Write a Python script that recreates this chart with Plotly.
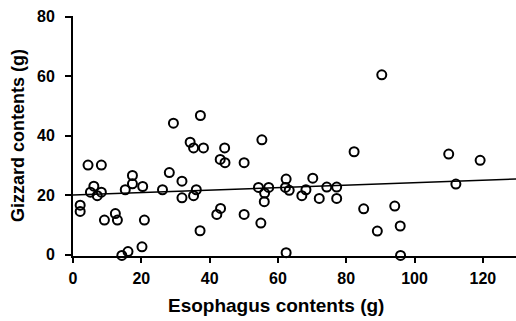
import plotly.graph_objects as go

esophagus = [2.1, 2.1, 4.4, 8.3, 6.1, 5.1, 7.1, 8.3, 9.2, 12.4, 13.0, 14.3, 16.1, 15.3, 17.4, 17.4,
             20.4, 20.9, 20.2, 26.2, 28.2, 29.4, 31.9, 31.9, 35.3, 36.1, 37.2, 37.3, 34.3, 35.3,
             38.2, 44.4, 43.1, 44.5, 50.1, 43.2, 42.1, 50.1, 55.3, 54.3, 57.3, 56.1, 56.0, 55.0,
             62.4, 62.2, 63.3, 62.4, 67.0, 68.2, 70.2, 72.1, 74.3, 77.2, 77.2, 82.3, 85.1, 89.1,
             90.4, 94.2, 95.8, 95.9, 110.0, 112.1, 119.2]
gizzard = [16.6, 14.5, 30.1, 30.1, 23.0, 21.0, 19.8, 21.0, 11.6, 13.8, 11.6, -0.3, 1.0, 21.8, 26.6, 23.8,
           22.9, 11.6, 2.6, 21.8, 27.6, 44.2, 24.7, 19.1, 19.8, 21.8, 8.0, 46.8, 37.8, 35.9,
           35.9, 35.9, 32.0, 30.9, 30.9, 15.5, 13.5, 13.5, 38.6, 22.6, 22.6, 20.7, 17.8, 10.6,
           25.4, 22.6, 21.6, 0.6, 19.8, 21.8, 25.7, 18.9, 22.7, 22.7, 18.9, 34.6, 15.4, 7.9,
           60.5, 16.3, 9.6, -0.3, 33.8, 23.7, 31.7]

fit_intercept = 20.0
fit_slope = 0.042
fit_x = [0, 130]
fit_y = [fit_intercept + fit_slope * v for v in fit_x]

x_ticks = [0, 20, 40, 60, 80, 100, 120]
y_ticks = [0, 20, 40, 60, 80]

x_title = "Esophagus contents (g)"
y_title = "Gizzard contents (g)"

fig = go.Figure()
fig.add_trace(go.Scatter(x=fit_x, y=fit_y, mode="lines",
                         line=dict(color="black", width=1.5), showlegend=False))
fig.add_trace(go.Scatter(x=esophagus, y=gizzard, mode="markers",
                         marker=dict(symbol="circle-open", size=9, color="black",
                                     line=dict(width=2, color="black")),
                         showlegend=False, cliponaxis=False))

font_family = "Liberation Sans, Arial, sans-serif"
fig.update_layout(
    width=516, height=321,
    margin=dict(l=73, r=0, t=16, b=65),
    paper_bgcolor="white", plot_bgcolor="white",
    font=dict(family=font_family, color="black"),
    xaxis=dict(range=[0, 129.7], tickvals=x_ticks, showgrid=False, zeroline=False,
               showline=True, linecolor="black", linewidth=2,
               ticks="outside", ticklen=5, tickwidth=2, tickcolor="black",
               tickfont=dict(size=16, family=font_family, weight="bold"),
               ticklabelstandoff=2),
    yaxis=dict(range=[-0.5, 80.3], tickvals=y_ticks, showgrid=False, zeroline=False,
               showline=True, linecolor="black", linewidth=2,
               ticks="outside", ticklen=6, tickwidth=2, tickcolor="black",
               tickfont=dict(size=16, family=font_family, weight="bold"),
               ticklabelstandoff=7),
    annotations=[
        dict(text="<b>" + x_title + "</b>", xref="paper", yref="paper",
             x=0.458, y=-0.208, xanchor="center", yanchor="middle",
             showarrow=False, font=dict(size=19)),
        dict(text="<b>" + y_title + "</b>", xref="paper", yref="paper",
             x=-0.124, y=0.5, xanchor="center", yanchor="middle", textangle=-90,
             showarrow=False, font=dict(size=18)),
    ],
)

fig.write_html("out.html")
